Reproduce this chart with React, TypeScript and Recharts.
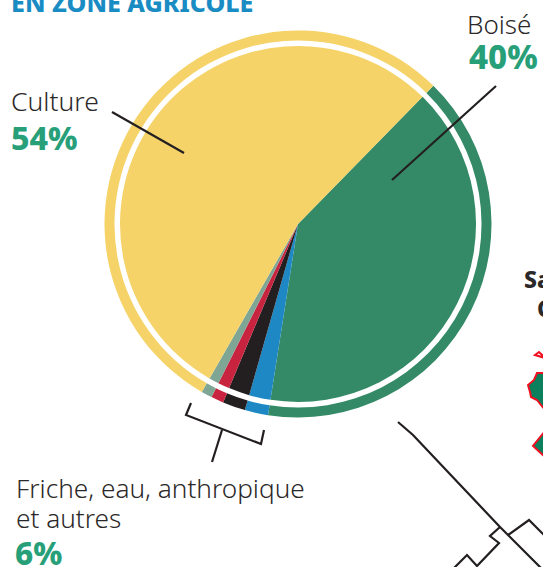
import { PieChart, Pie, Cell } from 'recharts'

// ordre horaire depuis le haut à droite
const categories = ['Boisé', 'Eau', 'Anthropique', 'Friche', 'Autres', 'Culture']
const shares = [40.1, 1.95, 1.9, 1.05, 0.9, 54]
const colors = ['#348A66', '#1E88C4', '#231F20', '#C9243F', '#7FA595', '#F5D369']

const pieData = categories.map((name, i) => ({ name, value: shares[i] }))

const FONT = '"Noto Sans", sans-serif'
const INK = '#2b2829'
const PCT = '#27A07A'

// traits de rappel et fond de carte coupé à droite
const inkLines = [
    '112,112 184,153',
    '496,86 392,180',
    '191,403 186,415 261,444 264,430',
    '222,430 212,462',
    '398,422 413,435 500,527 543,570',
    '500,527 490,536 499,543 477,566 467,555 452,570',
    '508,535 529,520 545,536'
]
const mapShapes = [
    '545,373 537,373 534,380 528,385 530,392 531,397 537,400 545,410',
    '545,431 533,446 545,457'
]

function Label({ x, y, size, weight = 300, color = INK, children }: any) {
    return (
        <text x={x} y={y} fontSize={size} fontWeight={weight} fill={color} fontFamily={FONT}>
            {children}
        </text>
    )
}

export default function App() {
    return (
        <div style={{ position: 'absolute', left: 0, top: 0, width: 543, height: 567, overflow: 'hidden', background: '#fff' }}>
            <PieChart width={543} height={567} margin={{ top: 0, right: 0, bottom: 0, left: 0 }}>
                <Pie
                    data={pieData}
                    dataKey="value"
                    cx={298}
                    cy={224}
                    innerRadius={0}
                    outerRadius={178}
                    startAngle={45.6}
                    endAngle={-314.4}
                    stroke="none"
                    isAnimationActive={false}
                >
                    {pieData.map((d, i) => <Cell key={d.name} fill={colors[i]} />)}
                </Pie>
                <Pie
                    data={pieData}
                    dataKey="value"
                    cx={298}
                    cy={224}
                    innerRadius={183.5}
                    outerRadius={193.5}
                    startAngle={45.6}
                    endAngle={-314.4}
                    stroke="none"
                    isAnimationActive={false}
                >
                    {pieData.map((d, i) => <Cell key={d.name} fill={colors[i]} />)}
                </Pie>
            </PieChart>
            <svg width={543} height={567} style={{ position: 'absolute', left: 0, top: 0 }}>
                {inkLines.map(p => <polyline key={p} points={p} fill="none" stroke="#231F20" strokeWidth={2.2} />)}
                <polygon points="535,355 539,352 545,358" fill="none" stroke="#f01020" strokeWidth={2} />
                {mapShapes.map(p => <polygon key={p} points={p} fill="#0C7F5C" stroke="#f01020" strokeWidth={2} />)}
                <Label x={11} y={12} size={25} weight={800} color="#1A8CC4">EN ZONE AGRICOLE</Label>
                <Label x={11} y={111} size={26.5}>Culture</Label>
                <Label x={11} y={150} size={32} weight={800} color={PCT}>54%</Label>
                <Label x={467} y={34} size={26}>Boisé</Label>
                <Label x={469} y={69} size={33} weight={800} color={PCT}>40%</Label>
                <Label x={16} y={498} size={26.2}>Friche, eau, anthropique</Label>
                <Label x={16} y={528} size={26.2}>et autres</Label>
                <Label x={15} y={565} size={31.5} weight={800} color={PCT}>6%</Label>
                <Label x={524} y={288} size={23} weight={800}>Sa</Label>
                <Label x={537} y={317} size={23} weight={800}>C</Label>
            </svg>
        </div>
    )
}
